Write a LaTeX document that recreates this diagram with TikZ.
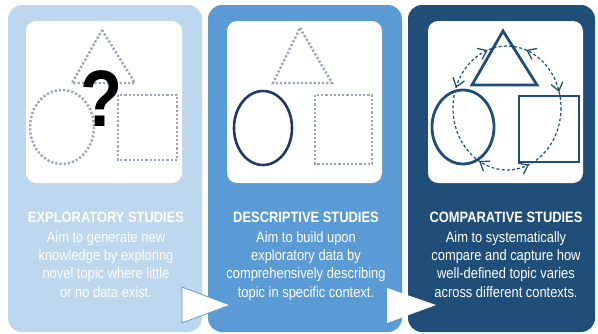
\documentclass[tikz,border=0pt]{standalone}
\usepackage{fontspec}
\setmainfont{Liberation Sans}[FakeStretch=0.86]
\definecolor{pone}{HTML}{BDD7EE}
\definecolor{ptwo}{HTML}{5B9BD5}
\definecolor{pthree}{HTML}{1F4E79}
\definecolor{navy}{HTML}{1F3864}
\definecolor{dotgray}{HTML}{9AA5B5}
\begin{document}
\begin{tikzpicture}[x=1pt,y=-1pt,
  panel/.style={rectangle, rounded corners=14pt, minimum height=327pt, outer sep=0pt, inner sep=0pt},
  whitebox/.style={rectangle, rounded corners=10pt, fill=white, minimum height=162pt, outer sep=0pt, inner sep=0pt},
  dotline/.style={draw=dotgray, line width=2.4pt, dash pattern=on 2.2pt off 2pt},
  solidshape/.style={draw=pthree, line width=2.8pt, line join=miter},
  cycleline/.style={draw=pthree, line width=1.2pt, dash pattern=on 3pt off 2.2pt},
  vtip/.style={draw=pthree, line width=1.3pt, line join=miter},
  caption/.style={text=white, align=center, anchor=north, inner sep=0pt, font=\fontsize{15}{18.3}\selectfont},
  flowtri/.style={fill=white, line join=miter}
]
\useasboundingbox (0,0) rectangle (598,333);
\fill[white] (0,0) rectangle (598,333);

% panels
\node[panel, fill=pone, minimum width=194pt] (p1) at (105,168.5) {};
\node[panel, fill=ptwo, minimum width=194pt] (p2) at (305,168.5) {};
\node[panel, fill=pthree, minimum width=187pt] (p3) at (501.5,168.5) {};

% white boxes
\node[whitebox, minimum width=156pt] (w1) at (104,102) {};
\node[whitebox, minimum width=155pt] (w2) at (304.5,102) {};
\node[whitebox, minimum width=155pt] (w3) at (505.5,102) {};

% panel 1 shapes
\draw[dotline] (102,30) -- (135,83) -- (72,83) -- cycle;
\draw[dotline] (62,127) ellipse[x radius=32, y radius=37];
\draw[dotline] (118,95) rectangle (177,160);
\node[inner sep=0pt, font=\fontsize{80}{80}\selectfont\bfseries] (q) at (102,99) {?};

% panel 2 shapes
\draw[dotline] (300,28) -- (332,83) -- (273,83) -- cycle;
\draw[draw=navy, line width=2.6pt] (263,128) ellipse[x radius=29, y radius=37];
\draw[dotline] (315,95) rectangle (372,164);

% panel 3 shapes
\draw[solidshape] (503,31) -- (537,85) -- (472,85) -- cycle;
\draw[solidshape] (463,127) ellipse[x radius=31, y radius=37];
\draw[solidshape] (519,96) rectangle (579,162);
\coordinate (cc) at (507,108);
\draw[cycleline] (cc) ellipse[x radius=54, y radius=62];
% open arrow tips on the cycle
\draw[vtip, shift={(486.8,50.5)}, rotate=24.8] (-8,-6) -- (0,0) -- (-8,6);
\draw[vtip, shift={(456.3,86.8)}, rotate=252.4] (-8,-6) -- (0,0) -- (-8,6);
\draw[vtip, shift={(527.2,50.5)}, rotate=155.1] (-8,-6) -- (0,0) -- (-8,6);
\draw[vtip, shift={(558.9,90.9)}, rotate=284] (-8,-6) -- (0,0) -- (-8,6);
\draw[vtip, shift={(528.1,165.1)}, rotate=26] (-8,-6) -- (0,0) -- (-8,6);
\draw[vtip, shift={(480,161.7)}, rotate=146.5] (-8,-6) -- (0,0) -- (-8,6);

% captions
\node[caption] (t1) at (106,211.5) {\textbf{EXPLORATORY STUDIES}\\[1.7pt]Aim to generate new\\knowledge by exploring\\novel topic where little\\or no data exist.};
\node[caption] (t2) at (306,211.5) {\textbf{DESCRIPTIVE STUDIES}\\[1.7pt]Aim to build upon\\exploratory data by\\comprehensively describing\\topic in specific context.};
\node[caption] (t3) at (506,211.5) {\textbf{COMPARATIVE STUDIES}\\[1.7pt]Aim to systematically\\compare and capture how\\well-defined topic varies\\across different contexts.};

% flow triangles
\path[flowtri, draw=ptwo, line width=0.8pt] (182,287) -- (230,305) -- (182,323) -- cycle;
\path[flowtri] (387,288) -- (436,305) -- (387,323) -- cycle;
\end{tikzpicture}
\end{document}
